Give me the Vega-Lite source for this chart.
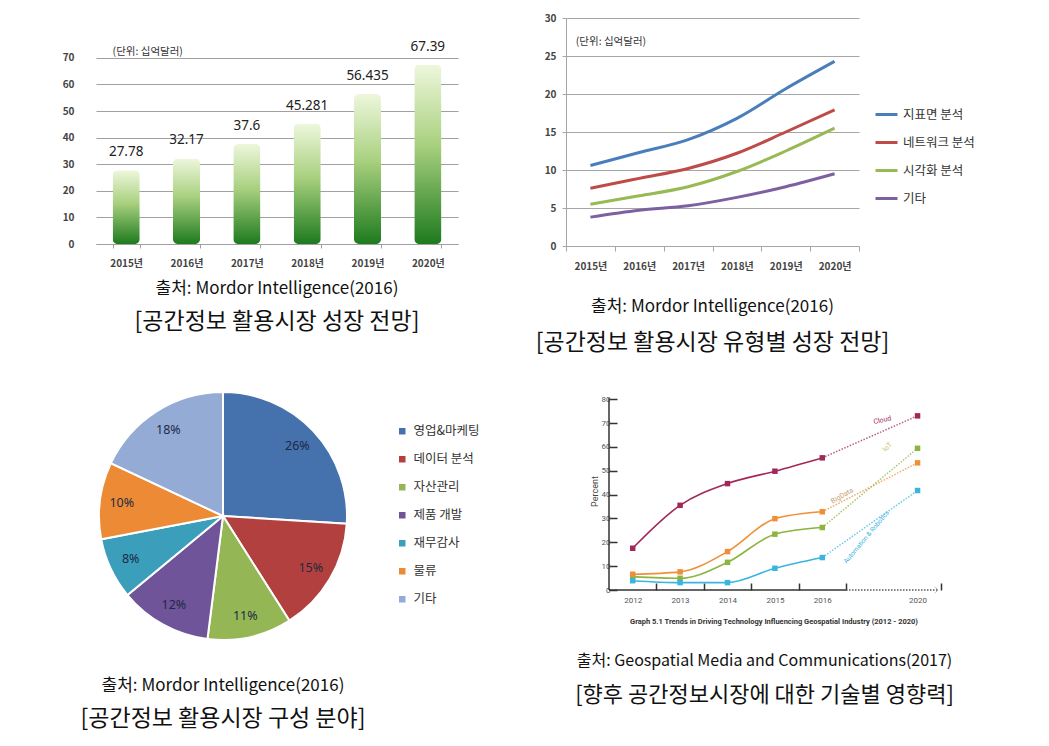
{
  "$schema": "https://vega.github.io/schema/vega-lite/v6.json",
  "background": "white",
  "padding": {"left": 62, "top": 13, "right": 0, "bottom": 12},
  "config": {
    "view": {"stroke": null},
    "font": "Noto Sans CJK KR"
  },
  "spacing": 33,
  "resolve": {"scale": {"color": "independent"}, "legend": {"color": "independent"}},
  "vconcat": [
    {
      "spacing": 77,
      "resolve": {"scale": {"color": "independent"}, "legend": {"color": "independent"}},
      "hconcat": [
        {
          "width": 362,
          "height": 226,
          "title": {"text": "출처: Mordor Intelligence(2016)", "subtitle": "[공간정보 활용시장 성장 전망]", "orient": "bottom", "offset": 13, "fontSize": 17, "fontWeight": "normal", "color": "#111", "subtitleFontSize": 23, "subtitleColor": "#111", "subtitlePadding": 13, "font": "Noto Sans CJK KR", "subtitleFont": "Noto Sans CJK KR"},
          "data": {"values": [
            {"year": "2015년", "value": 27.78},
            {"year": "2016년", "value": 32.17},
            {"year": "2017년", "value": 37.6},
            {"year": "2018년", "value": 45.281},
            {"year": "2019년", "value": 56.435},
            {"year": "2020년", "value": 67.39}
          ]},
          "encoding": {
            "x": {"field": "year", "type": "nominal", "sort": null,
              "scale": {"paddingInner": 0.55, "paddingOuter": 0.275},
              "axis": {"title": null, "labelAngle": 0, "labelFontSize": 10, "labelFontWeight": "bold", "labelColor": "#444", "labelPadding": 10, "tickBand": "extent", "tickOffset": -10, "tickSize": 4, "tickColor": "#a0a0a0", "domainColor": "#a0a0a0"}},
            "y": {"field": "value", "type": "quantitative",
              "scale": {"domain": [0, 85], "nice": false},
              "axis": {"title": null, "values": [0, 10, 20, 30, 40, 50, 60, 70], "domain": false, "ticks": false, "labelPadding": 22, "labelFontSize": 10, "labelFontWeight": "bold", "labelColor": "#444", "gridColor": "#a0a0a0"}}
          },
          "layer": [
            {"mark": {"type": "bar", "cornerRadius": 5,
              "color": {"gradient": "linear", "x1": 0, "y1": 0, "x2": 0, "y2": 1,
                "stops": [{"offset": 0, "color": "#eef7dd"}, {"offset": 0.45, "color": "#a8d07e"}, {"offset": 1, "color": "#1e7a1e"}]}}},
            {"mark": {"type": "text", "baseline": "bottom", "dy": -11, "fontSize": 13.5, "color": "#222", "font": "Noto Sans"},
              "encoding": {"text": {"field": "value", "type": "quantitative"}}},
            {"transform": [{"filter": "datum.year == '2015년'"}],
              "mark": {"type": "text", "align": "left", "fontSize": 10.5, "color": "#333", "text": "(단위: 십억달러)"},
              "encoding": {"x": {"field": "year", "type": "nominal", "bandPosition": 0}, "y": {"datum": 72.3}}}
          ]
        },
        {
          "width": 293,
          "height": 228,
          "title": {"text": "출처: Mordor Intelligence(2016)", "subtitle": "[공간정보 활용시장 유형별 성장 전망]", "orient": "bottom", "offset": 28, "fontSize": 17, "fontWeight": "normal", "color": "#111", "subtitleFontSize": 23, "subtitleColor": "#111", "subtitlePadding": 16, "font": "Noto Sans CJK KR", "subtitleFont": "Noto Sans CJK KR"},
          "data": {"values": [
            {"year": "2015년", "series": "지표면 분석", "value": 10.6},
            {"year": "2016년", "series": "지표면 분석", "value": 12.3},
            {"year": "2017년", "series": "지표면 분석", "value": 14.0},
            {"year": "2018년", "series": "지표면 분석", "value": 16.8},
            {"year": "2019년", "series": "지표면 분석", "value": 20.7},
            {"year": "2020년", "series": "지표면 분석", "value": 24.3},
            {"year": "2015년", "series": "네트워크 분석", "value": 7.6},
            {"year": "2016년", "series": "네트워크 분석", "value": 8.9},
            {"year": "2017년", "series": "네트워크 분석", "value": 10.2},
            {"year": "2018년", "series": "네트워크 분석", "value": 12.2},
            {"year": "2019년", "series": "네트워크 분석", "value": 15.0},
            {"year": "2020년", "series": "네트워크 분석", "value": 17.9},
            {"year": "2015년", "series": "시각화 분석", "value": 5.5},
            {"year": "2016년", "series": "시각화 분석", "value": 6.6},
            {"year": "2017년", "series": "시각화 분석", "value": 7.8},
            {"year": "2018년", "series": "시각화 분석", "value": 9.8},
            {"year": "2019년", "series": "시각화 분석", "value": 12.5},
            {"year": "2020년", "series": "시각화 분석", "value": 15.5},
            {"year": "2015년", "series": "기타", "value": 3.8},
            {"year": "2016년", "series": "기타", "value": 4.7},
            {"year": "2017년", "series": "기타", "value": 5.3},
            {"year": "2018년", "series": "기타", "value": 6.4},
            {"year": "2019년", "series": "기타", "value": 7.8},
            {"year": "2020년", "series": "기타", "value": 9.5}
          ]},
          "encoding": {
            "x": {"field": "year", "type": "nominal", "sort": null,
              "scale": {"type": "band", "paddingInner": 0, "paddingOuter": 0},
              "axis": {"title": null, "labelAngle": 0, "labelFontSize": 10, "labelFontWeight": "bold", "labelColor": "#444", "labelPadding": 10, "tickBand": "extent", "tickSize": 5, "tickColor": "#a6a6a6", "domainColor": "#a6a6a6"}},
            "y": {"field": "value", "type": "quantitative",
              "scale": {"domain": [0, 30], "nice": false},
              "axis": {"title": null, "values": [0, 5, 10, 15, 20, 25, 30], "tickSize": 4, "tickColor": "#a6a6a6", "domainColor": "#a6a6a6", "labelPadding": 6, "labelFontSize": 10, "labelFontWeight": "bold", "labelColor": "#444", "gridColor": "#a6a6a6"}}
          },
          "layer": [
            {"mark": {"type": "line", "strokeWidth": 3, "interpolate": "monotone"},
              "encoding": {"color": {"field": "series", "type": "nominal",
                "scale": {"domain": ["지표면 분석", "네트워크 분석", "시각화 분석", "기타"], "range": ["#4a7ebb", "#be4b48", "#98b954", "#7d60a0"]},
                "legend": {"title": null, "orient": "none", "legendX": 308, "legendY": 84, "symbolType": "stroke", "symbolSize": 484, "symbolStrokeWidth": 3, "labelFontSize": 12.5, "labelColor": "#333", "rowPadding": 9, "labelOffset": 4}}}},
            {"transform": [{"filter": "datum.year == '2015년' && datum.series == '기타'"}],
              "mark": {"type": "text", "align": "left", "fontSize": 10.5, "color": "#333", "text": "(단위: 십억달러)"},
              "encoding": {"x": {"field": "year", "type": "nominal", "bandPosition": 0.2}, "y": {"datum": 26.8}}}
          ]
        }
      ]
    },
    {
      "spacing": 95,
      "resolve": {"scale": {"color": "independent"}, "legend": {"color": "independent"}},
      "hconcat": [
        {
          "width": 254,
          "height": 248,
          "title": {"text": "출처: Mordor Intelligence(2016)", "subtitle": "[공간정보 활용시장 구성 분야]", "orient": "bottom", "offset": 34, "fontSize": 17, "fontWeight": "normal", "color": "#111", "subtitleFontSize": 23, "subtitleColor": "#111", "subtitlePadding": 13, "font": "Noto Sans CJK KR", "subtitleFont": "Noto Sans CJK KR"},
          "data": {"values": [
            {"cat": "영업&마케팅", "pct": 0.26, "rank": 1},
            {"cat": "데이터 분석", "pct": 0.15, "rank": 2},
            {"cat": "자산관리", "pct": 0.11, "rank": 3},
            {"cat": "제품 개발", "pct": 0.12, "rank": 4},
            {"cat": "재무감사", "pct": 0.08, "rank": 5},
            {"cat": "물류", "pct": 0.10, "rank": 6},
            {"cat": "기타", "pct": 0.18, "rank": 7}
          ]},
          "encoding": {
            "theta": {"field": "pct", "type": "quantitative", "stack": true},
            "order": {"field": "rank", "type": "quantitative"},
            "color": {"field": "cat", "type": "nominal",
              "scale": {"domain": ["영업&마케팅", "데이터 분석", "자산관리", "제품 개발", "재무감사", "물류", "기타"],
                "range": ["#4571ad", "#b2403e", "#94b655", "#6f5499", "#3b9ebb", "#ec8a35", "#94abd6"]},
              "legend": {"title": null, "orient": "none", "legendX": 300, "legendY": 33, "symbolType": "square", "symbolSize": 64, "labelFontSize": 12.5, "labelColor": "#333", "rowPadding": 13, "labelOffset": 5}}
          },
          "layer": [
            {"mark": {"type": "arc", "stroke": "white", "strokeWidth": 2}},
            {"mark": {"type": "text", "radius": 102, "fontSize": 12.5, "font": "Noto Sans"},
              "encoding": {"color": {"value": "#1f2a44"}, "detail": {"field": "cat"}, "text": {"field": "pct", "type": "quantitative", "format": ".0%"}}}
          ]
        },
        {
          "width": 329,
          "height": 198,
          "title": {"text": "출처: Geospatial Media and Communications(2017)", "subtitle": "[향후 공간정보시장에 대한 기술별 영향력]", "orient": "bottom", "offset": 28, "dx": -9, "fontSize": 16, "fontWeight": "normal", "color": "#111", "subtitleFontSize": 22, "subtitleColor": "#111", "subtitlePadding": 16, "font": "Noto Sans CJK KR", "subtitleFont": "Noto Sans CJK KR"},
          "data": {"values": [
            {"year": 2012, "series": "Cloud", "value": 17.5},
            {"year": 2013, "series": "Cloud", "value": 35.5},
            {"year": 2014, "series": "Cloud", "value": 44.6},
            {"year": 2015, "series": "Cloud", "value": 49.8},
            {"year": 2016, "series": "Cloud", "value": 55.4},
            {"year": 2020, "series": "Cloud", "value": 73.0},
            {"year": 2012, "series": "IoT", "value": 5.6},
            {"year": 2013, "series": "IoT", "value": 4.9},
            {"year": 2014, "series": "IoT", "value": 11.6},
            {"year": 2015, "series": "IoT", "value": 23.4},
            {"year": 2016, "series": "IoT", "value": 26.2},
            {"year": 2020, "series": "IoT", "value": 59.4},
            {"year": 2012, "series": "BigData", "value": 6.6},
            {"year": 2013, "series": "BigData", "value": 7.6},
            {"year": 2014, "series": "BigData", "value": 16.1},
            {"year": 2015, "series": "BigData", "value": 29.9},
            {"year": 2016, "series": "BigData", "value": 32.8},
            {"year": 2020, "series": "BigData", "value": 53.3},
            {"year": 2012, "series": "Automation & Robotics", "value": 3.9},
            {"year": 2013, "series": "Automation & Robotics", "value": 3.1},
            {"year": 2014, "series": "Automation & Robotics", "value": 3.1},
            {"year": 2015, "series": "Automation & Robotics", "value": 9.1},
            {"year": 2016, "series": "Automation & Robotics", "value": 13.6},
            {"year": 2020, "series": "Automation & Robotics", "value": 41.7}
          ]},
          "encoding": {
            "x": {"field": "year", "type": "quantitative",
              "scale": {"domain": [2011.5, 2016.5, 2021], "range": [0, 237, 329], "nice": false, "zero": false},
              "axis": {"title": "Graph 5.1  Trends in Driving Technology Influencing Geospatial Industry (2012 - 2020)", "titleFont": "Roboto", "titleFontSize": 7.5, "titleFontWeight": "bold", "titleColor": "#333", "titlePadding": 13,
                "values": [2012, 2013, 2014, 2015, 2016, 2020], "format": "d", "domain": false, "grid": false,
                "tickSize": -7, "tickWidth": 1.5, "tickColor": "#333", "tickOffset": 23.75, "labelOffset": -23.75,
                "labelFont": "Roboto", "labelFontSize": 8, "labelColor": "#555", "labelPadding": 13}},
            "y": {"field": "value", "type": "quantitative",
              "scale": {"domain": [0, 83], "nice": false},
              "axis": {"title": "Percent", "titleFont": "Roboto", "titleFontSize": 9, "titleFontWeight": "normal", "titleColor": "#444", "titlePadding": 2,
                "values": [0, 10, 20, 30, 40, 50, 60, 70, 80], "grid": false, "domain": false,
                "tickSize": -8, "tickWidth": 1.5, "tickColor": "#333",
                "labelFont": "Roboto", "labelFontSize": 8, "labelColor": "#555", "labelPadding": 7}},
            "color": {"field": "series", "type": "nominal", "legend": null,
              "scale": {"domain": ["Cloud", "IoT", "BigData", "Automation & Robotics"], "range": ["#a3285a", "#8cb43e", "#ef9038", "#3ab5de"]}}
          },
          "layer": [
            {"transform": [{"filter": "datum.year == 2012 && datum.series == 'Cloud'"}],
              "mark": {"type": "rule", "strokeWidth": 1.5, "color": "#333"},
              "encoding": {"x": {"datum": 2011.5}, "y": {"datum": 0}, "y2": {"datum": 80.5}, "color": {"value": "#333"}}},
            {"transform": [{"filter": "datum.year == 2012 && datum.series == 'Cloud'"}],
              "mark": {"type": "rule", "strokeWidth": 1.5, "color": "#333"},
              "encoding": {"x": {"datum": 2011.5}, "x2": {"datum": 2016.5}, "y": {"datum": 0}, "color": {"value": "#333"}}},
            {"transform": [{"filter": "datum.year == 2012 && datum.series == 'Cloud'"}],
              "mark": {"type": "rule", "strokeWidth": 1.5, "strokeDash": [1.5, 1.5], "color": "#555"},
              "encoding": {"x": {"datum": 2016.5}, "x2": {"datum": 2021}, "y": {"datum": 0}, "color": {"value": "#555"}}},
            {"transform": [{"filter": "datum.year == 2012 && datum.series == 'Cloud'"}],
              "mark": {"type": "point", "shape": "M-1,-1L0,0L-1,1", "filled": false, "size": 40, "strokeWidth": 1, "strokeDash": [1, 1]},
              "encoding": {"x": {"datum": 2021}, "y": {"datum": 0}, "color": {"value": "#666"}}},
            {"transform": [{"filter": "datum.year <= 2016"}],
              "mark": {"type": "line", "strokeWidth": 1.6, "interpolate": "monotone"}},
            {"transform": [{"filter": "datum.year >= 2016"}],
              "mark": {"type": "line", "strokeWidth": 1.5, "strokeDash": [1.5, 1.5], "opacity": 0.75}},
            {"mark": {"type": "square", "size": 30, "opacity": 1}},
            {"transform": [{"filter": "datum.year == 2020 && datum.series == 'Cloud'"}],
              "mark": {"type": "text", "fontSize": 7, "angle": -12, "font": "Roboto", "text": "Cloud"},
              "encoding": {"x": {"datum": 2018.28}, "y": {"datum": 71.2}, "color": {"value": "#a3285a"}}},
            {"transform": [{"filter": "datum.year == 2020 && datum.series == 'IoT'"}],
              "mark": {"type": "text", "fontSize": 7, "angle": -45, "font": "Roboto", "text": "IoT"},
              "encoding": {"x": {"datum": 2018.53}, "y": {"datum": 59.9}, "color": {"value": "#c8c060"}}},
            {"transform": [{"filter": "datum.year == 2020 && datum.series == 'BigData'"}],
              "mark": {"type": "text", "fontSize": 7, "angle": -30, "font": "Roboto", "text": "BigData"},
              "encoding": {"x": {"datum": 2016.42}, "y": {"datum": 39.4}, "color": {"value": "#c9a070"}}},
            {"transform": [{"filter": "datum.year == 2020 && datum.series == 'Automation & Robotics'"}],
              "mark": {"type": "text", "fontSize": 6.5, "angle": -50, "font": "Roboto", "text": "Automation & Robotics"},
              "encoding": {"x": {"datum": 2017.5}, "y": {"datum": 22.2}, "color": {"value": "#3ab5de"}}}
          ]
        }
      ]
    }
  ]
}
